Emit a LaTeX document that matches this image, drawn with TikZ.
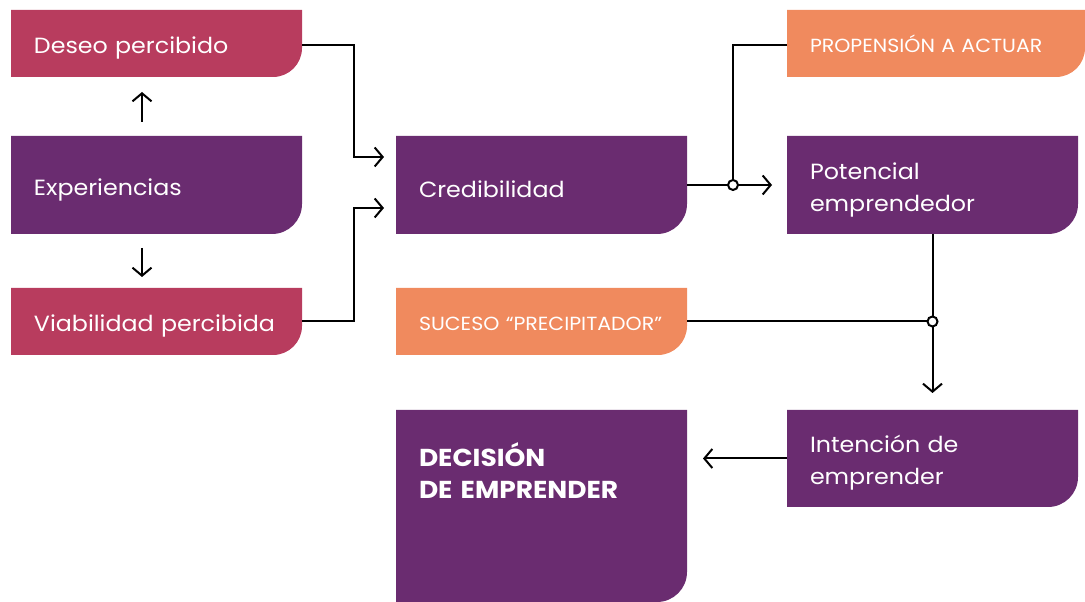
\documentclass[tikz,border=0pt]{standalone}
\usepackage{fontspec}
\setmainfont{Poppins}[FakeStretch=1.08]
\usetikzlibrary{arrows.meta,calc}
\definecolor{cpink}{RGB}{184,60,94}
\definecolor{cpurple}{RGB}{106,44,112}
\definecolor{corange}{RGB}{240,138,94}
\pgfdeclarelayer{bg}
\pgfsetlayers{bg,main}
\newcommand\rbox[3]{%
  \begin{pgfonlayer}{bg}
    \fill[#2] (#1.north west) -- (#1.north east) -- ([yshift=#3]#1.south east)
      arc[start angle=0,end angle=-90,radius=#3] -- (#1.south west) -- cycle;
  \end{pgfonlayer}}
\begin{document}
\begin{tikzpicture}[x=1pt,y=1pt,
  box/.style={anchor=north west, inner xsep=23pt, inner ysep=0pt, outer sep=0pt,
    text width=245pt, align=left, text=white, font=\fontsize{22}{32}\selectfont,
    execute at begin node=\rule{0pt}{26pt}},
  small/.style={font=\fontsize{19}{22}\selectfont, execute at begin node=\rule[-7pt]{0pt}{7pt}},
  conn/.style={line width=2pt, black},
  arr/.style={conn, -{Straight Barb[length=8pt,width=19pt]}},
  junc/.style={circle, draw, line width=2pt, fill=white, minimum size=10pt, inner sep=0pt}]
\useasboundingbox (0,0) rectangle (1085,602);
% boxes
\node[box, minimum height=67pt] (deseo) at (11,592) {Deseo percibido};
\rbox{deseo}{cpink}{29pt}
\node[box, minimum height=98pt] (exp) at (11,466) {Experiencias};
\rbox{exp}{cpurple}{30pt}
\node[box, minimum height=67pt] (viab) at (11,314) {Viabilidad percibida};
\rbox{viab}{cpink}{29pt}
\node[box, minimum height=98pt] (cred) at (396,466) {Credibilidad};
\rbox{cred}{cpurple}{30pt}
\node[box, small, minimum height=67pt, text width=252pt] (prop) at (787,592) {PROPENSIÓN A ACTUAR};
\rbox{prop}{corange}{29pt}
\node[box, minimum height=98pt] (pot) at (787,466) {Potencial\\emprendedor};
\rbox{pot}{cpurple}{30pt}
\node[box, small, minimum height=67pt] (suc) at (396,314) {SUCESO “PRECIPITADOR”};
\rbox{suc}{corange}{29pt}
\node[box, minimum height=192pt, execute at begin node={}, font=\fontsize{24.5}{32}\selectfont] (dec) at (396,192)
  {\parbox[c][192pt][t]{245pt}{\vspace*{33pt}\textbf{DECISIÓN}\\\textbf{DE EMPRENDER}}};
\rbox{dec}{cpurple}{30pt}
\node[box, minimum height=97pt] (int) at (787,192) {Intención de\\emprender};
\rbox{int}{cpurple}{30pt}
% connectors
\draw[arr] ([shift={(-14.5,14)}]exp.north) -- ([shift={(-14.5,-15)}]deseo.south);
\draw[arr] ([shift={(-14.5,-14)}]exp.south) -- ([shift={(-14.5,11)}]viab.north);
\draw[arr] ([yshift=-1.5]deseo.east) -- ++(52,0) |- ([shift={(-12,28)}]cred.west);
\draw[arr] (viab.east) -- ++(52,0) |- ([shift={(-12,-23)}]cred.west);
\draw[arr] (cred.east) -- ([xshift=-15]pot.west);
\node[junc] (j1) at ($(cred.east)+(46,0)$) {};
\draw[conn] ([yshift=-1.5]prop.west) -| (j1.north);
\draw[arr] (pot.south) -- ([yshift=17]int.north);
\node[junc] (j2) at (pot.south |- suc.east) {};
\draw[conn] (suc.east) -- (j2.west);
\draw[arr] (int.west) -- ([xshift=16]dec.east |- int.west);
\end{tikzpicture}
\end{document}
